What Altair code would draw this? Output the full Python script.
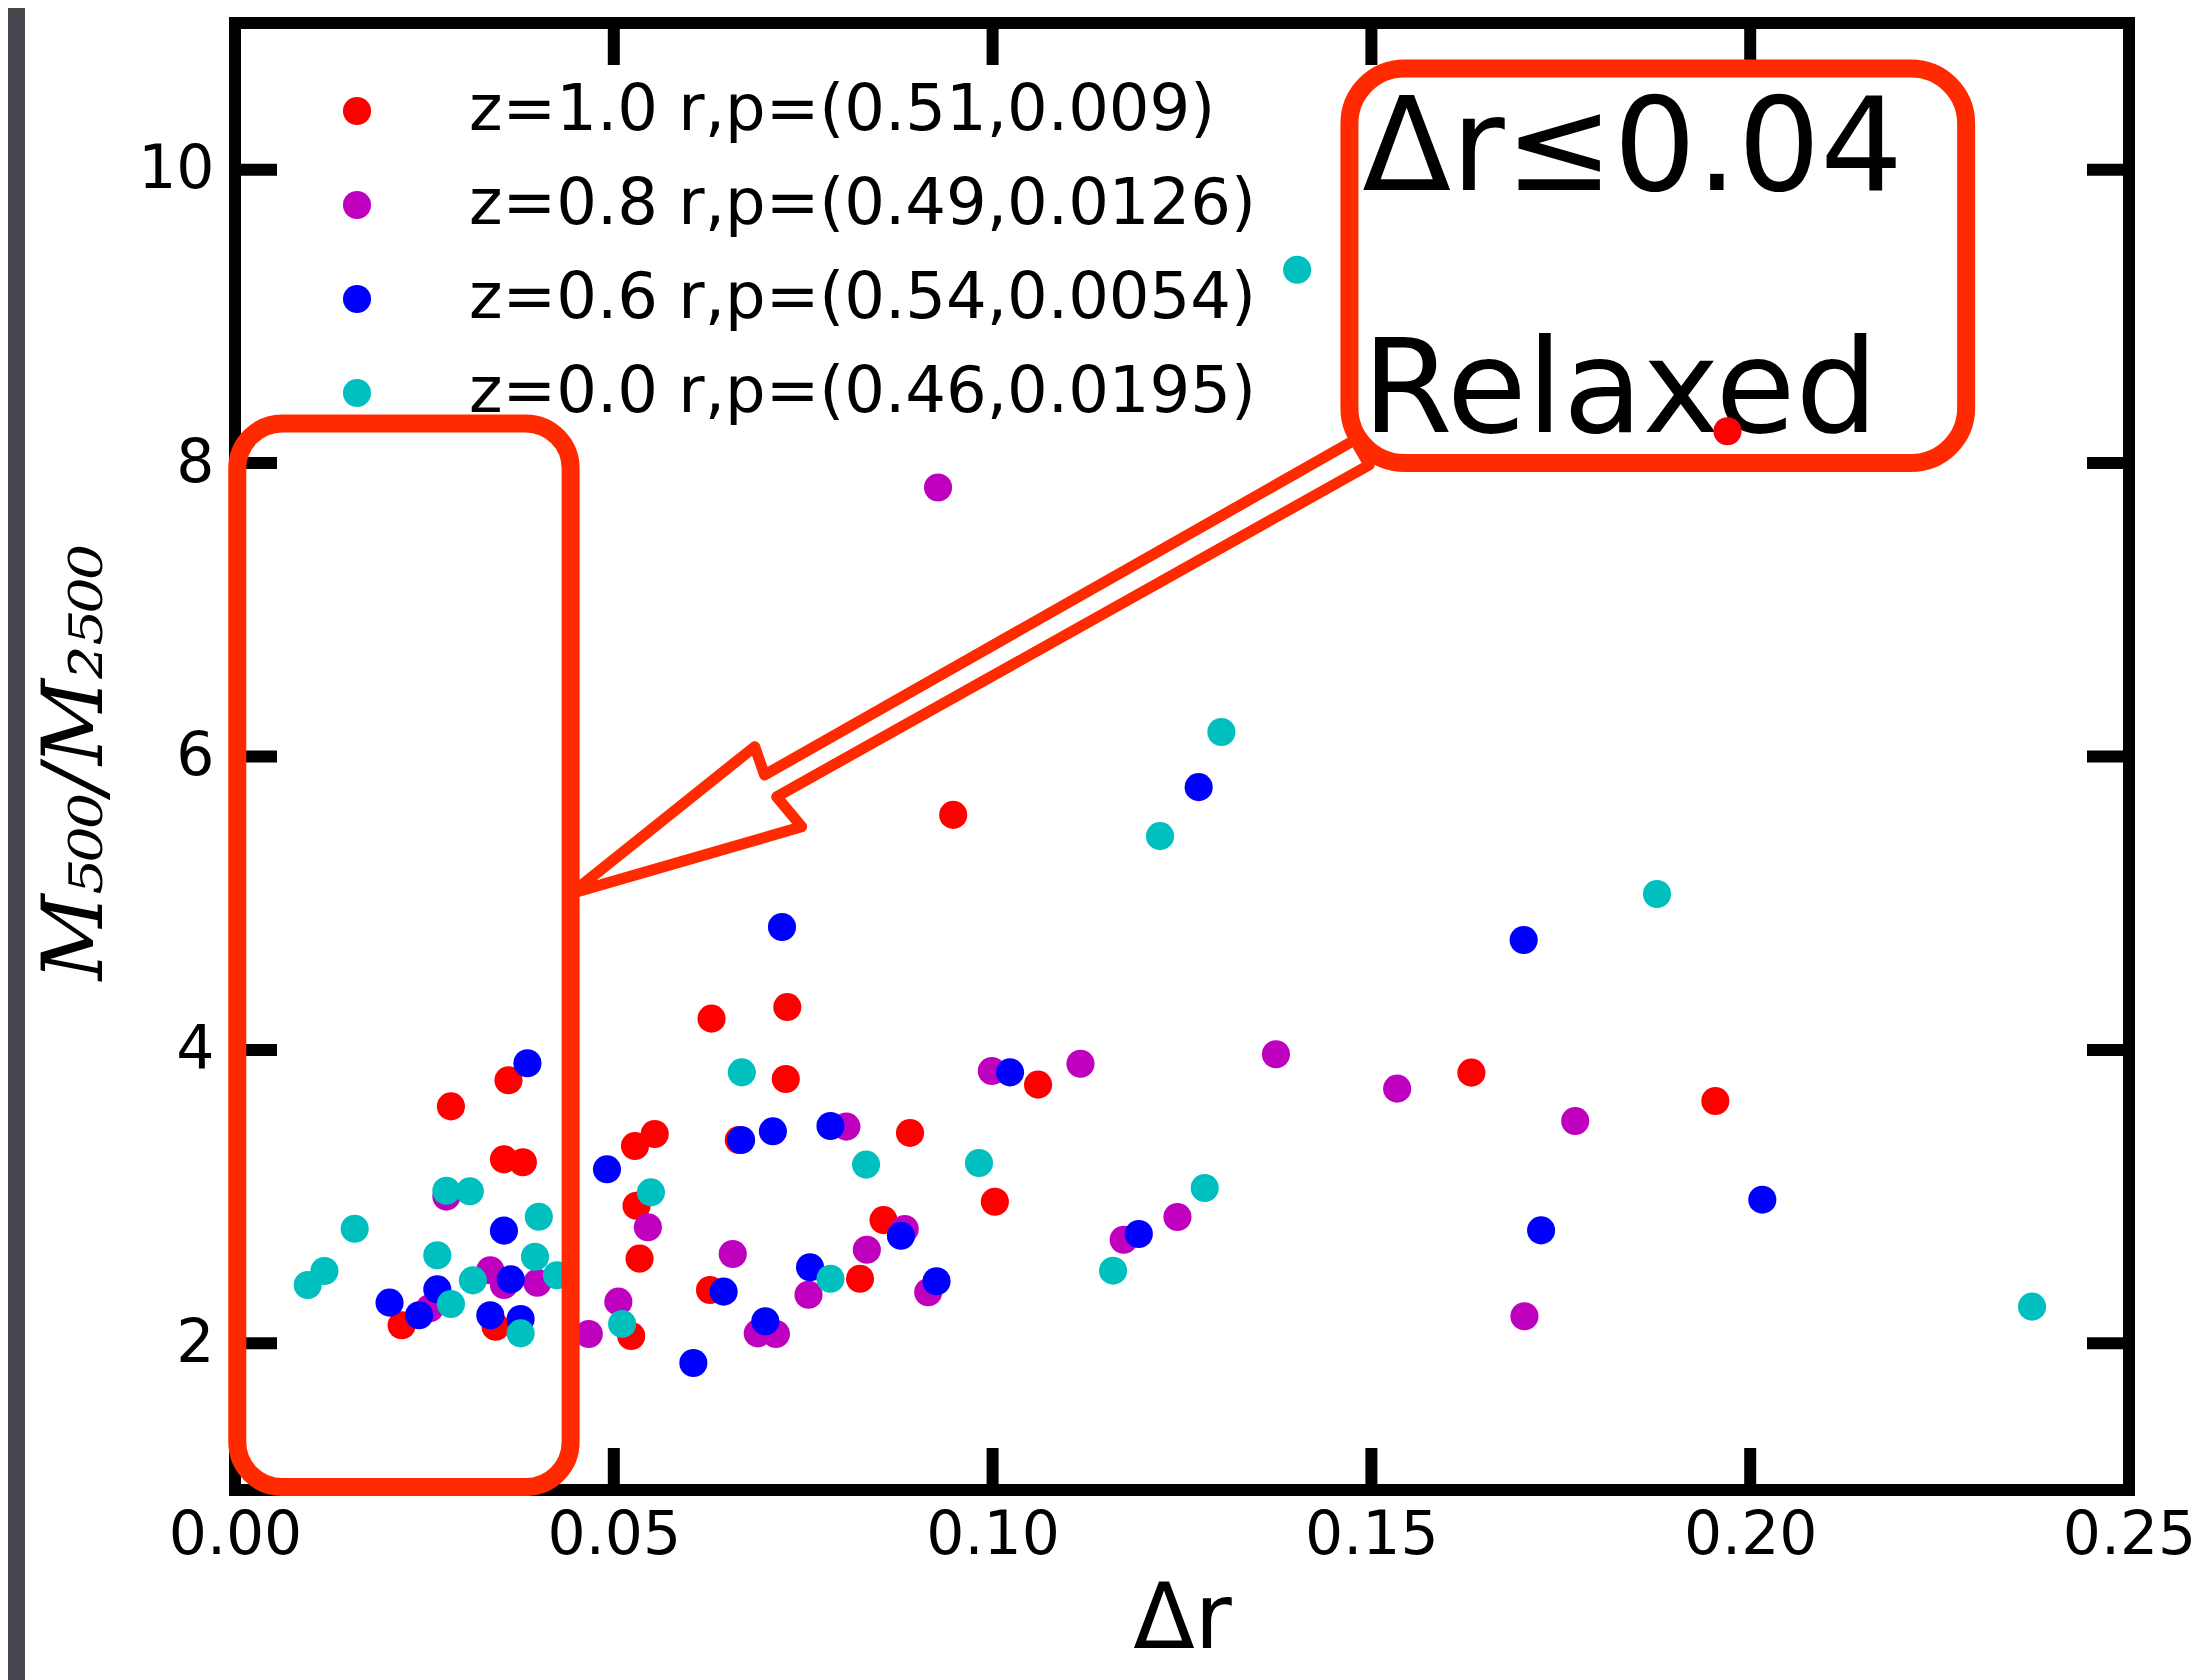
import altair as alt
import pandas as pd

# ---------------- data ----------------
labels = [
    "z=1.0 r,p=(0.51,0.009)",
    "z=0.8 r,p=(0.49,0.0126)",
    "z=0.6 r,p=(0.54,0.0054)",
    "z=0.0 r,p=(0.46,0.0195)",
]
colors = ["#ff0000", "#bf00bf", "#0000ff", "#00bfbf"]

z10_dr = [0.0361, 0.0285, 0.0355, 0.0380, 0.0528, 0.0554, 0.0220, 0.0344, 0.0523, 0.0530,
          0.0534, 0.0629, 0.0729, 0.0727, 0.0665, 0.0891, 0.1003, 0.1060, 0.0627, 0.0825,
          0.0856, 0.0948, 0.1970, 0.1632, 0.1954]
z10_m = [3.793, 3.615, 3.254, 3.234, 3.345, 3.427, 2.123, 2.113, 2.050, 2.938,
         2.577, 4.213, 4.292, 3.802, 3.386, 3.434, 2.965, 3.763, 2.363, 2.440,
         2.840, 5.602, 8.217, 3.845, 3.652]

z08_dr = [0.0279, 0.0337, 0.0355, 0.0399, 0.0257, 0.0467, 0.0506, 0.0545, 0.0807, 0.0999,
          0.1116, 0.0657, 0.0757, 0.0834, 0.0884, 0.0915, 0.0690, 0.0714, 0.0928, 0.1374,
          0.1534, 0.1244, 0.1173, 0.1769, 0.1702]
z08_m = [3.000, 2.498, 2.397, 2.413, 2.239, 2.063, 2.284, 2.791, 3.477, 3.856,
         3.906, 2.609, 2.331, 2.638, 2.779, 2.348, 2.068, 2.063, 7.834, 3.970,
         3.736, 2.861, 2.706, 3.515, 2.184]

z06_dr = [0.0386, 0.0491, 0.0355, 0.0364, 0.0267, 0.0204, 0.0243, 0.0337, 0.0377, 0.0722,
          0.0668, 0.0710, 0.0786, 0.1023, 0.0645, 0.0759, 0.0879, 0.0926, 0.0700, 0.0605,
          0.1701, 0.1193, 0.1724, 0.2016, 0.1272]
z06_m = [3.909, 3.186, 2.768, 2.436, 2.368, 2.277, 2.191, 2.191, 2.166, 4.838,
         3.386, 3.445, 3.481, 3.847, 2.352, 2.518, 2.733, 2.423, 2.150, 1.866,
         4.749, 2.745, 2.770, 2.979, 5.791]

z00_dr = [0.0279, 0.0310, 0.0401, 0.0158, 0.0118, 0.0096, 0.0267, 0.0396, 0.0425, 0.0314,
          0.0285, 0.0377, 0.0511, 0.0549, 0.0669, 0.0786, 0.0833, 0.0982, 0.1280, 0.1159,
          0.2372, 0.1402, 0.1302, 0.1221, 0.1877]
z00_m = [3.040, 3.036, 2.863, 2.781, 2.493, 2.397, 2.600, 2.590, 2.464, 2.429,
         2.268, 2.068, 2.132, 3.029, 3.847, 2.440, 3.218, 3.229, 3.059, 2.495,
         2.250, 9.318, 6.167, 5.457, 5.063]

x_ticks = [0.00, 0.05, 0.10, 0.15, 0.20, 0.25]
x_inner_ticks = [0.05, 0.10, 0.15, 0.20]
y_ticks = [2, 4, 6, 8, 10]

# annotation geometry (data coordinates)
box1 = {"dr": 0.0003, "dr2": 0.0443, "ratio": 1.02, "ratio2": 8.27}
box2 = {"dr": 0.1471, "dr2": 0.2285, "ratio": 8.00, "ratio2": 10.69}
arrow_dr = [0.0444, 0.0686, 0.0699, 0.1478, 0.1497, 0.0715, 0.0748, 0.0444]
arrow_m = [5.067, 6.067, 5.874, 8.157, 7.987, 5.726, 5.521, 5.067]
note_text = ["Δr≤0.04", "Relaxed"]
note_dr = [0.1488, 0.1488]
note_m = [9.862, 8.212]

# ---------------- tables ----------------
rows = []
idx = 0
for lab, xs, ys in zip(labels, [z10_dr, z08_dr, z06_dr, z00_dr], [z10_m, z08_m, z06_m, z00_m]):
    for a, b in zip(xs, ys):
        rows.append({"series": lab, "dr": a, "ratio": b, "idx": idx})
        idx += 1
df = pd.DataFrame(rows)

W, H = 1894, 1467
RED = "#ff2a00"
xscale = alt.Scale(domain=[0, 0.25], nice=False, zero=False)
yscale = alt.Scale(domain=[1, 11], nice=False, zero=False)

x_axis = alt.Axis(
    values=x_ticks, format=".2f", labelFont="DejaVu Sans", labelFontSize=60,
    labelColor="black", labelPadding=16, ticks=False, tickSize=0, domain=False,
    grid=False, labelFlush=False, labelOverlap=False, zindex=2,
    title="Δr", titleFont="DejaVu Sans", titleFontSize=90, titleFontWeight="normal",
    titleColor="black", titleX=W / 2, titleY=157, titleAlign="center",
    titleBaseline="alphabetic")
y_axis = alt.Axis(
    values=y_ticks, format="d", labelFont="DejaVu Sans", labelFontSize=60,
    labelColor="black", labelPadding=21, ticks=False, tickSize=0, domain=False,
    grid=False, labelFlush=False, labelOverlap=False, zindex=2,
    title="M₅₀₀/M₂₅₀₀", titleFont="DejaVu Serif", titleFontStyle="italic",
    titleFontSize=84, titleFontWeight="normal", titleColor="black",
    titleAngle=270, titleX=-134, titleY=739, titleAlign="center",
    titleBaseline="alphabetic")

one = pd.DataFrame({"k": [0]})

# dark slide edge on the left
strip = alt.Chart(one).mark_rect(color="#45474d").encode(
    x=alt.value(-227), x2=alt.value(-210), y=alt.value(-15), y2=alt.value(1657)
)

frame = alt.Chart(one).mark_rect(fillOpacity=0, stroke="black", strokeWidth=12).encode(
    x=alt.value(0), x2=alt.value(W), y=alt.value(0), y2=alt.value(H)
)

xt = pd.DataFrame({"dr": x_inner_ticks})
yt = pd.DataFrame({"ratio": y_ticks})
TL = 42
tick_bottom = alt.Chart(xt).mark_rule(color="black", strokeWidth=12).encode(
    x=alt.X("dr:Q", scale=xscale, axis=x_axis), y=alt.value(H), y2=alt.value(H - TL))
tick_top = alt.Chart(xt).mark_rule(color="black", strokeWidth=12).encode(
    x=alt.X("dr:Q", scale=xscale, axis=x_axis), y=alt.value(0), y2=alt.value(TL))
tick_left = alt.Chart(yt).mark_rule(color="black", strokeWidth=12).encode(
    y=alt.Y("ratio:Q", scale=yscale, axis=y_axis), x=alt.value(0), x2=alt.value(TL))
tick_right = alt.Chart(yt).mark_rule(color="black", strokeWidth=12).encode(
    y=alt.Y("ratio:Q", scale=yscale, axis=y_axis), x=alt.value(W), x2=alt.value(W - TL))

notes = alt.Chart(pd.DataFrame({"dr": note_dr, "ratio": note_m, "t": note_text})).mark_text(
    align="left", baseline="alphabetic", font="DejaVu Sans", fontSize=130, color="black"
).encode(
    x=alt.X("dr:Q", scale=xscale, axis=x_axis),
    y=alt.Y("ratio:Q", scale=yscale, axis=y_axis),
    text="t:N",
)

points = alt.Chart(df).mark_circle(size=790, opacity=1).encode(
    x=alt.X("dr:Q", scale=xscale, axis=x_axis),
    y=alt.Y("ratio:Q", scale=yscale, axis=y_axis),
    color=alt.Color("series:N", scale=alt.Scale(domain=labels, range=colors),
                    legend=alt.Legend(
                        orient="none", legendX=90, legendY=56, title=None,
                        symbolType="circle", symbolSize=790, symbolStrokeWidth=0,
                        symbolOpacity=1, labelFont="DejaVu Sans", labelFontSize=64,
                        labelColor="black", labelOffset=80, rowPadding=30,
                        padding=0, labelLimit=3000, zindex=2)),
    order=alt.Order("idx:Q"),
)

box_a = alt.Chart(pd.DataFrame([box1])).mark_rect(
    fillOpacity=0, stroke=RED, strokeWidth=18, cornerRadius=45
).encode(
    x=alt.X("dr:Q", scale=xscale, axis=x_axis), x2="dr2:Q",
    y=alt.Y("ratio:Q", scale=yscale, axis=y_axis), y2="ratio2:Q",
)
box_b = alt.Chart(pd.DataFrame([box2])).mark_rect(
    fillOpacity=0, stroke=RED, strokeWidth=18, cornerRadius=55
).encode(
    x=alt.X("dr:Q", scale=xscale, axis=x_axis), x2="dr2:Q",
    y=alt.Y("ratio:Q", scale=yscale, axis=y_axis), y2="ratio2:Q",
)

arrow = alt.Chart(pd.DataFrame({"dr": arrow_dr, "ratio": arrow_m,
                                "o": list(range(len(arrow_dr)))})).mark_line(
    color=RED, strokeWidth=11, strokeJoin="round"
).encode(
    x=alt.X("dr:Q", scale=xscale, axis=x_axis),
    y=alt.Y("ratio:Q", scale=yscale, axis=y_axis),
    order="o:Q",
)

chart = alt.layer(
    strip, frame, tick_bottom, tick_top, tick_left, tick_right, notes, points,
    box_a, box_b, arrow
).properties(
    width=W, height=H,
    autosize=alt.AutoSizeParams(type="none"),
    padding={"left": 227, "top": 15, "right": 66, "bottom": 190},
).configure(
    background="white"
).configure_view(stroke=None)

chart.save("out.html", embed_options={"renderer": "svg", "actions": False})
